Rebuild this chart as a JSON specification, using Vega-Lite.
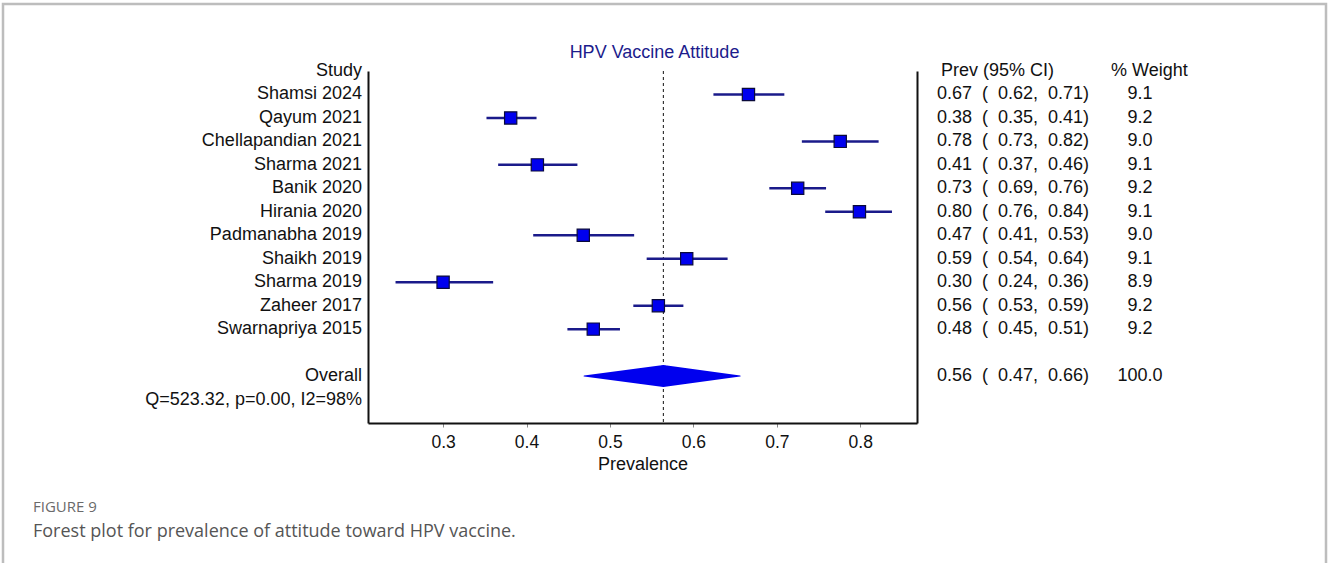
{
  "$schema": "https://vega.github.io/schema/vega-lite/v6.json",
  "width": 549,
  "height": 352,
  "autosize": {"type": "none"},
  "padding": {"left": 368, "top": 71, "right": 411, "bottom": 140},
  "background": "white",
  "config": {"view": {"stroke": null}, "font": "Liberation Sans"},
  "title": {"text": "HPV Vaccine Attitude", "frame": "group", "anchor": "middle", "dx": 12, "offset": -59, "color": "#1c1c8c", "fontSize": 18, "fontWeight": "normal", "font": "Liberation Sans"},
  "data": {"values": [
    {"row": 0, "kind": "header", "study": "Study", "ci": "Prev (95% CI)", "weight": "% Weight"},
    {"row": 1, "kind": "study", "study": "Shamsi 2024", "est": 0.666, "lo": 0.624, "hi": 0.709, "ci": "0.67\u00a0\u00a0(\u00a0\u00a00.62,\u00a0\u00a00.71)", "weight": "9.1"},
    {"row": 2, "kind": "study", "study": "Qayum 2021", "est": 0.381, "lo": 0.352, "hi": 0.412, "ci": "0.38\u00a0\u00a0(\u00a0\u00a00.35,\u00a0\u00a00.41)", "weight": "9.2"},
    {"row": 3, "kind": "study", "study": "Chellapandian 2021", "est": 0.776, "lo": 0.73, "hi": 0.822, "ci": "0.78\u00a0\u00a0(\u00a0\u00a00.73,\u00a0\u00a00.82)", "weight": "9.0"},
    {"row": 4, "kind": "study", "study": "Sharma 2021", "est": 0.413, "lo": 0.366, "hi": 0.461, "ci": "0.41\u00a0\u00a0(\u00a0\u00a00.37,\u00a0\u00a00.46)", "weight": "9.1"},
    {"row": 5, "kind": "study", "study": "Banik 2020", "est": 0.725, "lo": 0.691, "hi": 0.759, "ci": "0.73\u00a0\u00a0(\u00a0\u00a00.69,\u00a0\u00a00.76)", "weight": "9.2"},
    {"row": 6, "kind": "study", "study": "Hirania 2020", "est": 0.799, "lo": 0.758, "hi": 0.838, "ci": "0.80\u00a0\u00a0(\u00a0\u00a00.76,\u00a0\u00a00.84)", "weight": "9.1"},
    {"row": 7, "kind": "study", "study": "Padmanabha 2019", "est": 0.468, "lo": 0.408, "hi": 0.529, "ci": "0.47\u00a0\u00a0(\u00a0\u00a00.41,\u00a0\u00a00.53)", "weight": "9.0"},
    {"row": 8, "kind": "study", "study": "Shaikh 2019", "est": 0.592, "lo": 0.544, "hi": 0.641, "ci": "0.59\u00a0\u00a0(\u00a0\u00a00.54,\u00a0\u00a00.64)", "weight": "9.1"},
    {"row": 9, "kind": "study", "study": "Sharma 2019", "est": 0.3, "lo": 0.243, "hi": 0.36, "ci": "0.30\u00a0\u00a0(\u00a0\u00a00.24,\u00a0\u00a00.36)", "weight": "8.9"},
    {"row": 10, "kind": "study", "study": "Zaheer 2017", "est": 0.558, "lo": 0.528, "hi": 0.588, "ci": "0.56\u00a0\u00a0(\u00a0\u00a00.53,\u00a0\u00a00.59)", "weight": "9.2"},
    {"row": 11, "kind": "study", "study": "Swarnapriya 2015", "est": 0.48, "lo": 0.449, "hi": 0.512, "ci": "0.48\u00a0\u00a0(\u00a0\u00a00.45,\u00a0\u00a00.51)", "weight": "9.2"},
    {"row": 13, "kind": "overall", "study": "Overall", "est": 0.564, "lo": 0.469, "hi": 0.656, "ci": "0.56\u00a0\u00a0(\u00a0\u00a00.47,\u00a0\u00a00.66)", "weight": "100.0"},
    {"row": 14, "kind": "stat", "study": "Q=523.32, p=0.00, I2=98%"}
  ]},
  "layer": [
    {
      "data": {"values": [{"caption": "Forest plot for prevalence of attitude toward HPV vaccine.", "label": "FIGURE 9"}]},
      "layer": [
        {"mark": {"type": "rect", "fill": null, "stroke": "#bdbdbd", "strokeWidth": 2.5}, "encoding": {"x": {"value": -365}, "x2": {"value": 958}, "y": {"value": -67}, "y2": {"value": 520}}},
        {"mark": {"type": "text", "align": "left", "baseline": "middle", "font": "Open Sans", "fontSize": 15, "color": "#6a6a6a"}, "encoding": {"x": {"value": -335}, "y": {"value": 436}, "text": {"field": "label"}}},
        {"mark": {"type": "text", "align": "left", "baseline": "middle", "font": "Open Sans", "fontSize": 18, "color": "#555555"}, "encoding": {"x": {"value": -335}, "y": {"value": 461}, "text": {"field": "caption"}}}
      ]
    },
    {
      "transform": [{"filter": "datum.kind === 'overall'"}],
      "mark": {"type": "rule", "strokeDash": [3, 3], "color": "#111111", "strokeWidth": 1},
      "encoding": {"x": {"field": "est", "type": "quantitative"}}
    },
    {
      "transform": [{"filter": "datum.kind === 'study'"}],
      "mark": {"type": "rule", "color": "#1a1a8a", "strokeWidth": 2.5},
      "encoding": {
        "x": {"field": "lo", "type": "quantitative", "scale": {"domain": [0.21, 0.868], "nice": false, "zero": false},
          "axis": {"values": [0.3, 0.4, 0.5, 0.6, 0.7, 0.8], "format": ".1f", "grid": false, "domainWidth": 2, "domainColor": "#111111", "tickColor": "#888888", "tickSize": 4, "tickWidth": 1, "labelFont": "Liberation Sans", "labelFontSize": 17.5, "labelColor": "#111111", "labelPadding": 6, "title": "Prevalence", "titleFont": "Liberation Sans", "titleFontSize": 18, "titleFontWeight": "normal", "titleColor": "#111111", "titlePadding": 5}},
        "x2": {"field": "hi"},
        "y": {"field": "row", "type": "quantitative", "scale": {"domain": [0, 15], "reverse": true, "nice": false, "zero": false},
          "axis": {"orient": "left", "domain": true, "domainWidth": 2, "domainColor": "#111111", "ticks": false, "labels": false, "grid": false, "title": null}}
      }
    },
    {
      "transform": [{"filter": "datum.kind === 'study'"}],
      "mark": {"type": "point", "shape": "square", "filled": true, "fill": "#0000ee", "stroke": "#0a0a3a", "strokeWidth": 1.2, "size": 150, "opacity": 1},
      "encoding": {
        "x": {"field": "est", "type": "quantitative"},
        "y": {"field": "row", "type": "quantitative",
          "axis": {"orient": "right", "domain": true, "domainWidth": 2, "domainColor": "#111111", "ticks": false, "labels": false, "grid": false, "title": null}}
      }
    },
    {
      "transform": [{"filter": "datum.kind === 'overall'"}, {"fold": ["lo", "est", "hi"], "as": ["key", "value"]}],
      "mark": {"type": "trail", "color": "#0000ee"},
      "encoding": {
        "x": {"field": "value", "type": "quantitative"},
        "y": {"field": "row", "type": "quantitative", "axis": null},
        "size": {"condition": {"test": "datum.key === 'est'", "value": 22}, "value": 0}
      }
    },
    {
      "mark": {"type": "text", "align": "right", "baseline": "middle", "fontSize": 18, "color": "#111111"},
      "encoding": {"x": {"value": -6}, "y": {"field": "row", "type": "quantitative", "axis": null}, "text": {"field": "study"}}
    },
    {
      "transform": [{"filter": "datum.kind === 'study' || datum.kind === 'overall'"}],
      "mark": {"type": "text", "align": "left", "baseline": "middle", "fontSize": 18, "color": "#111111"},
      "encoding": {"x": {"value": 569}, "y": {"field": "row", "type": "quantitative", "axis": null}, "text": {"field": "ci"}}
    },
    {
      "transform": [{"filter": "datum.kind === 'study' || datum.kind === 'overall'"}],
      "mark": {"type": "text", "align": "center", "baseline": "middle", "fontSize": 18, "color": "#111111"},
      "encoding": {"x": {"value": 772}, "y": {"field": "row", "type": "quantitative", "axis": null}, "text": {"field": "weight"}}
    },
    {
      "transform": [{"filter": "datum.kind === 'header'"}],
      "layer": [
        {"mark": {"type": "text", "align": "left", "baseline": "middle", "fontSize": 18, "color": "#111111"},
          "encoding": {"x": {"value": 573}, "y": {"field": "row", "type": "quantitative", "axis": null}, "text": {"field": "ci"}}},
        {"mark": {"type": "text", "align": "left", "baseline": "middle", "fontSize": 18, "color": "#111111"},
          "encoding": {"x": {"value": 743}, "y": {"field": "row", "type": "quantitative", "axis": null}, "text": {"field": "weight"}}}
      ]
    }
  ],
  "resolve": {"axis": {"y": "independent"}}
}
